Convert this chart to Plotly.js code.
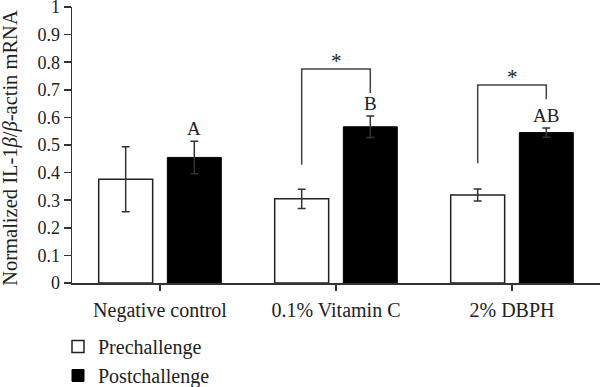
<!DOCTYPE html>
<html>
<head>
<meta charset="utf-8">
<script src="https://cdn.plot.ly/plotly-3.0.1.min.js"></script>
<style>html,body{margin:0;padding:0;background:#fff;}#chart{width:600px;height:387px;}</style>
</head>
<body>
<div id="chart"></div>
<script>
// ---- data ----
var categories = ['Negative control', '0.1% Vitamin C', '2% DBPH'];
var preValues = [0.376, 0.305, 0.319];
var preErrors = [0.118, 0.035, 0.022];
var postValues = [0.455, 0.566, 0.545];
var postErrors = [0.059, 0.039, 0.017];
var postLetters = ['A', 'B', 'AB'];
// significance brackets (category index, left foot, top, right foot)
var bracketCats = [1, 2];
var bracketLeftFoot = [0.428, 0.434];
var bracketTop = [0.775, 0.717];
var bracketRightFoot = [0.688, 0.666];
var bracketMark = ['*', '*'];
var yTicks = [0, 0.1, 0.2, 0.3, 0.4, 0.5, 0.6, 0.7, 0.8, 0.9, 1];
var yTickText = ['0', '0.1', '0.2', '0.3', '0.4', '0.5', '0.6', '0.7', '0.8', '0.9', '1'];
var yTitle = 'Normalized IL-1<i>β</i>/<i>β</i>-actin mRNA';

var FONT = 'Liberation Serif, Times New Roman, serif';
var INK = '#222';
var BARGAP = 0.22;
var slot = (1 - BARGAP) / 2;      // width of one bar slot in category units
var off = slot / 2;               // offset of bar centres from category centre
var ML = 72, MR = 0, W = 600;
var plotW = W - ML - MR;

var pre = {
  type: 'bar', name: 'Prechallenge', x: categories, y: preValues,
  marker: {color: '#ffffff', line: {color: INK, width: 1.5}},
  error_y: {type: 'data', array: preErrors, visible: true, color: '#333', thickness: 1.5, width: 4}
};
var post = {
  type: 'bar', name: 'Postchallenge', x: categories, y: postValues,
  marker: {color: '#000000', line: {color: '#000', width: 1}},
  error_y: {type: 'data', array: postErrors, visible: true, color: '#333', thickness: 1.5, width: 4}
};

var annotations = [];
var shapes = [];
for (var i = 0; i < categories.length; i++) {
  annotations.push({
    xref: 'x', yref: 'y', x: i + off, y: postValues[i] + postErrors[i],
    text: postLetters[i], showarrow: false, yanchor: 'bottom', yshift: 0,
    font: {family: FONT, size: 19, color: INK}
  });
}
for (var j = 0; j < bracketCats.length; j++) {
  var c = bracketCats[j];
  shapes.push({
    type: 'path', xref: 'x', yref: 'y',
    path: 'M' + (c - off) + ',' + bracketLeftFoot[j] + ' L' + (c - off) + ',' + bracketTop[j] +
          ' L' + (c + off) + ',' + bracketTop[j] + ' L' + (c + off) + ',' + bracketRightFoot[j],
    line: {color: '#444', width: 1.5}
  });
  annotations.push({
    xref: 'x', yref: 'y', x: c, y: bracketTop[j], text: bracketMark[j],
    showarrow: false, yanchor: 'bottom', yshift: -6,
    font: {family: FONT, size: 21, color: INK}
  });
}
// y-axis title (centre ~11px from the left edge)
annotations.push({
  xref: 'paper', yref: 'paper', x: (11 - ML) / plotW, y: 0.49, xanchor: 'center', yanchor: 'middle',
  text: yTitle, textangle: -90, showarrow: false,
  font: {family: FONT, size: 20.5, color: INK}
});

var layout = {
  width: 600, height: 387,
  margin: {l: ML, r: MR, t: 7, b: 104, autoexpand: false},
  paper_bgcolor: '#fff', plot_bgcolor: '#fff',
  barmode: 'group', bargap: BARGAP, bargroupgap: 0.214,
  font: {family: FONT, color: INK, size: 19},
  showlegend: true,
  legend: {
    xref: 'container', yref: 'container', x: 58 / 600, y: 1 - 327 / 387,
    xanchor: 'left', yanchor: 'top', orientation: 'v',
    font: {family: FONT, size: 20, color: INK}, bgcolor: 'rgba(0,0,0,0)', borderwidth: 0
  },
  xaxis: {
    type: 'category', range: [-0.5, 2.5], showgrid: false, zeroline: false,
    showline: true, linecolor: '#333', linewidth: 1.5,
    ticks: 'outside', ticklen: 6, tickwidth: 1.5, tickcolor: '#333',
    tickfont: {family: FONT, size: 20, color: INK}, ticklabelstandoff: 2,
    automargin: false, fixedrange: true
  },
  yaxis: {
    range: [0, 1], showgrid: false, zeroline: false,
    showline: true, linecolor: '#333', linewidth: 1.5,
    ticks: 'outside', ticklen: 7, tickwidth: 1.5, tickcolor: '#333',
    tickvals: yTicks, ticktext: yTickText, ticklabeloverflow: 'allow',
    tickfont: {family: FONT, size: 18, color: INK},
    automargin: false, fixedrange: true
  },
  annotations: annotations,
  shapes: shapes
};

Plotly.newPlot('chart', [pre, post], layout, {displayModeBar: false, staticPlot: true});
</script>
</body>
</html>
